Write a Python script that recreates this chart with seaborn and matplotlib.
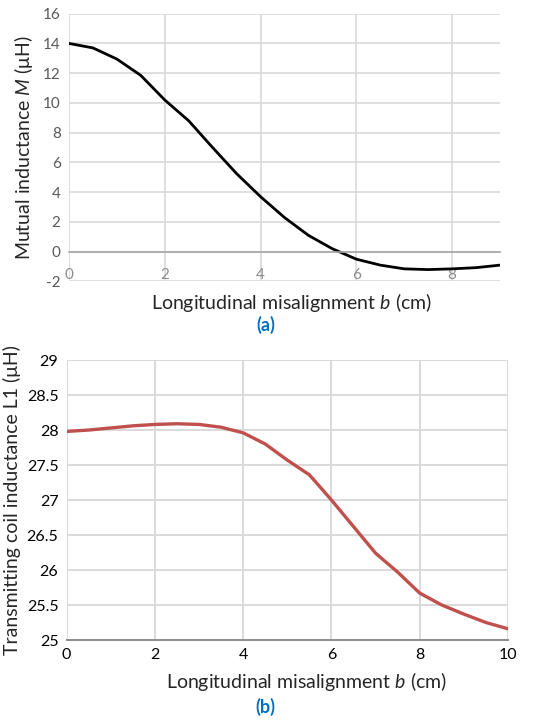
import matplotlib
matplotlib.use("Agg")
import matplotlib.pyplot as plt
import seaborn as sns
import pandas as pd

# Data
b_a = [0, 0.5, 1, 1.5, 2, 2.5, 3, 3.5, 4, 4.5, 5, 5.5, 6, 6.5, 7, 7.5, 8, 8.5, 9]
mutual_m = [14.0, 13.7, 12.95, 11.85, 10.2, 8.8, 7.0, 5.25, 3.7, 2.3, 1.1, 0.2,
            -0.5, -0.9, -1.15, -1.2, -1.15, -1.07, -0.9]

b_b = [0, 0.5, 1, 1.5, 2, 2.5, 3, 3.5, 4, 4.5, 5, 5.5, 6, 6.5, 7, 7.5, 8, 8.5,
       9, 9.5, 10]
coil_l1 = [27.98, 28.0, 28.03, 28.06, 28.08, 28.09, 28.08, 28.04, 27.96, 27.8,
           27.57, 27.36, 27.0, 26.62, 26.24, 25.97, 25.67, 25.5, 25.37, 25.25,
           25.16]

ticks_a_y = [-2, 0, 2, 4, 6, 8, 10, 12, 14, 16]
ticks_a_x = [0, 2, 4, 6, 8]
ticks_b_y = [25, 25.5, 26, 26.5, 27, 27.5, 28, 28.5, 29]
ticks_b_x = [0, 2, 4, 6, 8, 10]

sns.set_style("white")
plt.rcParams['font.family'] = ['Lato', 'DejaVu Sans']
plt.rcParams['mathtext.fontset'] = 'custom'
plt.rcParams['mathtext.rm'] = 'Lato'
plt.rcParams['mathtext.it'] = 'Lato:italic'
plt.rcParams['axes.unicode_minus'] = False

GRID = '#d9d9d9'
AXIS = '#a6a6a6'
LABEL_FS = 14

fig = plt.figure(figsize=(5.47, 7.24), dpi=100)
ax1 = fig.add_axes([0.1261, 0.6112, 0.788, 0.3699])
ax2 = fig.add_axes([0.1219, 0.116, 0.8068, 0.3867])

# (a) mutual inductance
df_a = pd.DataFrame({'b': b_a, 'M': mutual_m})
sns.lineplot(data=df_a, x='b', y='M', ax=ax1, color='black', linewidth=2.0)
ax1.set_xlim(0, 9)
ax1.set_ylim(-2, 16)
ax1.set_yticks(ticks_a_y)
ax1.set_xticks(ticks_a_x)
ax1.grid(True, color=GRID, linewidth=1.2)
ax1.set_axisbelow(True)
for s in ['top', 'right', 'left']:
    ax1.spines[s].set_visible(False)
ax1.spines['bottom'].set_position(('data', 0))
ax1.spines['bottom'].set_color(AXIS)
ax1.spines['bottom'].set_linewidth(1.2)
ax1.tick_params(axis='y', length=0, labelsize=11, labelcolor='#595959', pad=6)
ax1.tick_params(axis='x', length=0, labelsize=11, labelcolor='#8c8c8c', pad=12)
ax1.set_xlabel('')
ax1.set_ylabel('Mutual inductance $\\mathit{M}$ (μH)', fontsize=LABEL_FS, labelpad=6)
fig.text(291.7 / 547, 1 - 303 / 724, 'Longitudinal misalignment $\\mathit{b}$ (cm)',
         ha='center', va='center', fontsize=LABEL_FS)
fig.text(265.7 / 547, 1 - 325 / 724, '(a)', ha='center', va='center',
         fontsize=13, color='#0070c0', fontweight='bold')

# (b) transmitting coil inductance
df_b = pd.DataFrame({'b': b_b, 'L1': coil_l1})
sns.lineplot(data=df_b, x='b', y='L1', ax=ax2, color='#c0504d', linewidth=2.4)
ax2.set_xlim(0, 10)
ax2.set_ylim(25, 29)
ax2.set_yticks(ticks_b_y)
ax2.set_yticklabels([f'{v:g}' for v in ticks_b_y])
ax2.set_xticks(ticks_b_x)
ax2.grid(True, color=GRID, linewidth=1.4)
ax2.set_axisbelow(True)
for s in ['top', 'right', 'left']:
    ax2.spines[s].set_visible(False)
ax2.spines['bottom'].set_color('#8c8c8c')
ax2.spines['bottom'].set_linewidth(1.4)
ax2.tick_params(axis='y', length=0, labelsize=11.5, labelcolor='black', pad=6)
ax2.tick_params(axis='x', length=5, color='#8c8c8c', direction='in',
                labelsize=11.5, labelcolor='black', pad=6)
ax2.set_xlabel('')
ax2.set_ylabel('Transmitting coil inductance L1 (μH)', fontsize=LABEL_FS, labelpad=4)
fig.text(306.5 / 547, 1 - 681.7 / 724, 'Longitudinal misalignment $\\mathit{b}$ (cm)',
         ha='center', va='center', fontsize=LABEL_FS)
fig.text(265.7 / 547, 1 - 706.7 / 724, '(b)', ha='center', va='center',
         fontsize=13, color='#0070c0', fontweight='bold')

fig.savefig('out.png', dpi=100)
